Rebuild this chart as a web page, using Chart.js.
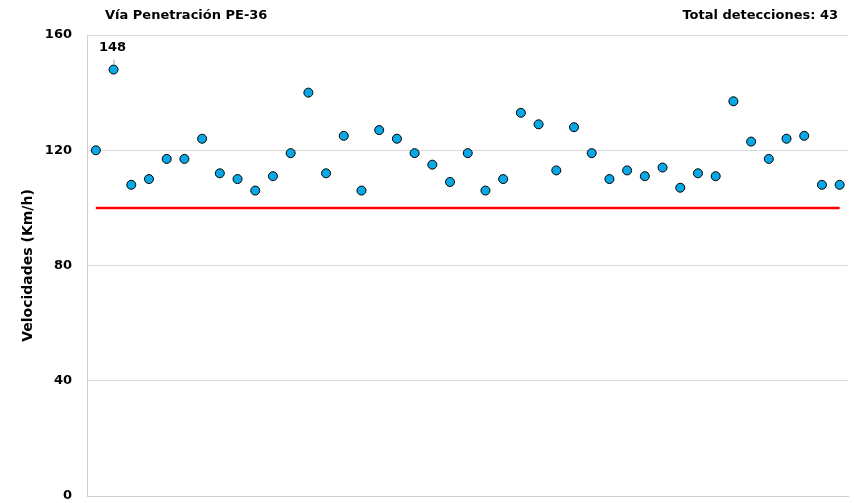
<!DOCTYPE html>
<html>
<head>
<meta charset="utf-8">
<script src="https://cdn.jsdelivr.net/npm/chart.js@4"></script>
<style>
  html, body { margin: 0; padding: 0; background: #fff; }
  #wrap { width: 854px; height: 503px; }
</style>
</head>
<body>
<div id="wrap"><canvas id="speedChart"></canvas></div>
<script>
// speeds, one per detection
const speeds = [120, 148, 108, 110, 117, 117, 124, 112, 110, 106, 111, 119, 140, 112, 125,
                106, 127, 124, 119, 115, 109, 119, 106, 110, 133, 129, 113, 128, 119, 110,
                113, 111, 114, 107, 112, 111, 137, 123, 117, 124, 125, 108, 108];
const speedLimit = 100;
const yTicks = [0, 40, 80, 120, 160];
const chartTitle = 'Vía Penetración PE-36';
const totalLabel = 'Total detecciones: ' + speeds.length;
const labels = speeds.map((v, i) => String(i + 1));

const FONT = "'DejaVu Sans', sans-serif";

// draws the two header texts and the label over the max point
const annotations = {
    id: 'annotations',
    afterDraw(chart) {
        const ctx = chart.ctx;
        const x = chart.scales.x, y = chart.scales.y;
        ctx.save();
        ctx.fillStyle = '#000';
        ctx.textBaseline = 'middle';
        ctx.font = 'bold 13px ' + FONT;
        ctx.textAlign = 'left';
        ctx.fillText(chartTitle, 105, 16);
        ctx.textAlign = 'right';
        ctx.fillText(totalLabel, 838, 16);

        const maxVal = Math.max(...speeds);
        const idx = speeds.indexOf(maxVal);
        const px = x.getPixelForValue(idx);
        const py = y.getPixelForValue(maxVal);
        ctx.strokeStyle = '#a6a6a6';
        ctx.lineWidth = 1;
        ctx.beginPath();
        ctx.moveTo(px + 0.5, py - 5);
        ctx.lineTo(px + 0.5, py - 10);
        ctx.stroke();
        ctx.textAlign = 'center';
        ctx.fillText(String(maxVal), px - 1, py - 22);
        ctx.restore();
    }
};

const ctx = document.getElementById('speedChart').getContext('2d');
new Chart(ctx, {
    type: 'line',
    data: {
        labels: labels,
        datasets: [
            {
                label: 'Velocidad',
                data: speeds,
                showLine: false,
                pointRadius: 4.5,
                pointHoverRadius: 4.5,
                pointBackgroundColor: '#08a8e6',
                pointBorderColor: '#000',
                pointBorderWidth: 1
            },
            {
                label: 'Límite',
                data: speeds.map(() => speedLimit),
                borderColor: '#ff0000',
                borderWidth: 2.5,
                pointRadius: 0,
                fill: false
            }
        ]
    },
    plugins: [annotations],
    options: {
        responsive: true,
        maintainAspectRatio: false,
        animation: false,
        layout: { padding: { top: 35, right: 4, bottom: 0, left: 0 } },
        plugins: {
            legend: { display: false },
            tooltip: { enabled: false }
        },
        scales: {
            x: {
                offset: true,
                grid: { display: false, drawTicks: false },
                border: { color: '#d0d0d0' },
                ticks: { display: false },
                afterFit(scale) { scale.height = 0; }
            },
            y: {
                min: 0,
                max: 160,
                afterBuildTicks(scale) { scale.ticks = yTicks.map(v => ({ value: v })); },
                grid: { color: '#d9d9d9', drawTicks: false },
                border: { color: '#d0d0d0' },
                ticks: {
                    padding: 15,
                    color: '#000',
                    font: { family: FONT, size: 13, weight: 'bold' }
                },
                title: {
                    display: true,
                    text: 'Velocidades (Km/h)',
                    color: '#000',
                    font: { family: FONT, size: 14, weight: 'bold' },
                    padding: { top: 20, bottom: 0 }
                },
                afterFit(scale) {
                    scale.width = 87;
                    scale.paddingTop = 0;
                    scale.paddingBottom = 7;
                }
            }
        }
    }
});
</script>
</body>
</html>
